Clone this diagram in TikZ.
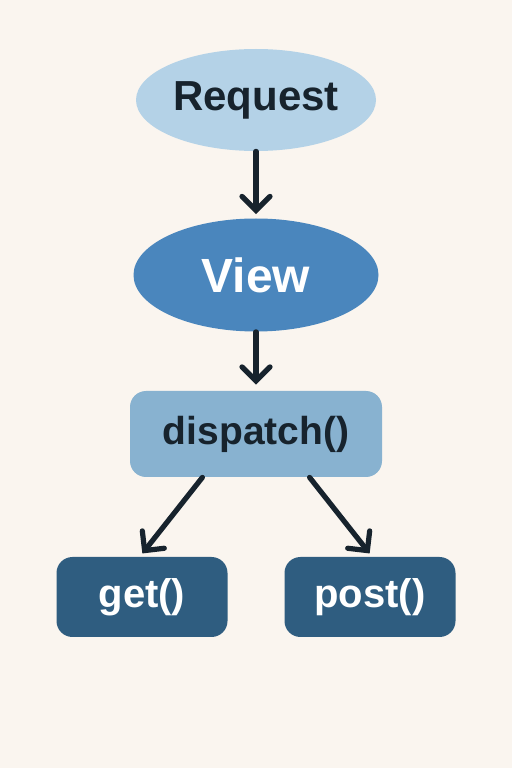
\documentclass[tikz,border=0pt]{standalone}
\usepackage{fontspec}
\setmainfont{Liberation Sans}
\usetikzlibrary{arrows.meta, shapes.geometric, positioning}
\definecolor{bgcol}{HTML}{FAF5EF}
\definecolor{reqcol}{HTML}{B4D2E7}
\definecolor{viewcol}{HTML}{4A86BD}
\definecolor{dispcol}{HTML}{88B2D0}
\definecolor{methcol}{HTML}{2F5D80}
\definecolor{inkcol}{HTML}{17232D}

\begin{document}
\begin{tikzpicture}[x=1pt,y=1pt,>={Straight Barb[length=7pt,width=14pt,line cap=round]},
  oval/.style={ellipse,inner sep=0pt,font=\bfseries},
  box/.style={rectangle,rounded corners=8pt,inner sep=0pt,font=\bfseries},
  link/.style={->,line width=2.6pt,draw=inkcol,line cap=round}]
\fill[bgcol] (0,0) rectangle (256,384);
\node[oval,fill=reqcol,text=inkcol,minimum width=120pt,minimum height=51pt,font=\bfseries\fontsize{21}{24}\selectfont] at (128,334) (Req) {Request};
\node[oval,fill=viewcol,text=white,minimum width=122.5pt,minimum height=56.5pt,font=\bfseries\fontsize{24}{28}\selectfont] at (128,246.5) (View) {View};
\node[box,fill=dispcol,text=inkcol,minimum width=126pt,minimum height=43pt,font=\bfseries\fontsize{19.5}{23}\selectfont] at (128,167) (Disp) {dispatch()};
\node[box,fill=methcol,text=white,minimum width=85.5pt,minimum height=40pt,font=\bfseries\fontsize{20}{24}\selectfont] at (71,85.5) (Get) {get()};
\node[box,fill=methcol,text=white,minimum width=85.5pt,minimum height=40pt,font=\bfseries\fontsize{20}{24}\selectfont] at (185,85.5) (Post) {post()};
\draw[link,shorten >=2pt](Req) to (View);
\draw[link,shorten >=3pt](View) to (Disp);
\draw[link,shorten >=2pt](Disp.219) to (Get.93);
\draw[link,shorten >=2pt](Disp.321) to (Post.87);
\end{tikzpicture}
\end{document}
